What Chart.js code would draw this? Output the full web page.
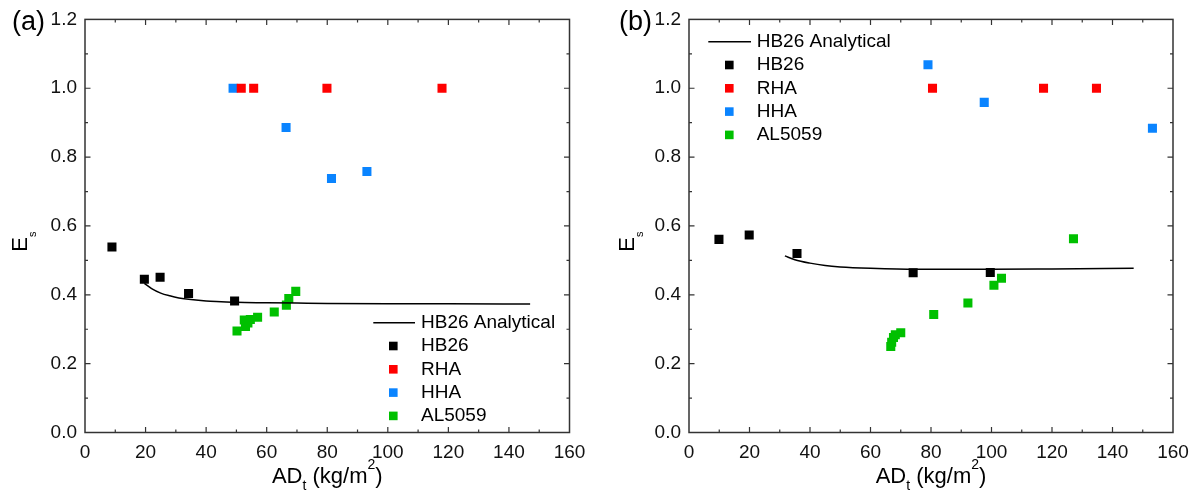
<!DOCTYPE html>
<html>
<head>
<meta charset="utf-8">
<script src="https://cdn.jsdelivr.net/npm/chart.js@4.4.0/dist/chart.umd.min.js"></script>
<style>
body { margin: 0; background: #fff; }
#wrap { position: relative; width: 1201px; height: 490px; }
#wrap canvas { position: absolute; top: 0; }
</style>
</head>
<body>
<div id="wrap">
  <canvas id="chartA" width="600" height="490" style="left:0"></canvas>
  <canvas id="chartB" width="601" height="490" style="left:600px"></canvas>
</div>
<script>
// ---- data, panel (a)
let hb26XA = [8.9, 19.6, 24.8, 34.2, 49.4]
let hb26YA = [0.539, 0.445, 0.451, 0.404, 0.382]
let rhaXA = [51.6, 55.7, 79.9, 117.9]
let rhaYA = [1.0, 1.0, 1.0, 1.0]
let hhaXA = [48.9, 66.4, 81.4, 93.1]
let hhaYA = [1.0, 0.886, 0.738, 0.758]
let alXA = [50.2, 52.6, 53.0, 53.8, 54.6, 57.0, 62.5, 66.5, 67.3, 69.6]
let alYA = [0.295, 0.327, 0.308, 0.318, 0.328, 0.335, 0.350, 0.370, 0.389, 0.410]
let anaXA = [19.6, 22, 25, 28, 31, 35, 40, 45, 50, 60, 70, 80, 100, 120, 147]
let anaYA = [0.433, 0.418, 0.405, 0.397, 0.391, 0.386, 0.382, 0.380, 0.378, 0.377, 0.376, 0.375, 0.374, 0.374, 0.373]

// ---- data, panel (b)
let hb26XB = [9.9, 19.9, 35.7, 74.1, 99.6]
let hb26YB = [0.561, 0.574, 0.520, 0.464, 0.465]
let rhaXB = [80.5, 117.2, 134.7]
let rhaYB = [1.0, 1.0, 1.0]
let hhaXB = [79.0, 97.6, 153.2]
let hhaYB = [1.068, 0.959, 0.884]
let alXB = [66.7, 67.0, 67.6, 68.2, 70.0, 80.9, 92.2, 100.8, 103.3, 127.1]
let alYB = [0.250, 0.262, 0.276, 0.284, 0.290, 0.343, 0.376, 0.428, 0.448, 0.563]
let anaXB = [31.7, 35, 40, 45, 50, 60, 75, 100, 120, 147]
let anaYB = [0.513, 0.502, 0.492, 0.485, 0.481, 0.477, 0.474, 0.474, 0.475, 0.477]

// ---- axes
let xTicks = [0, 20, 40, 60, 80, 100, 120, 140, 160]
let yTicks = [0.0, 0.2, 0.4, 0.6, 0.8, 1.0, 1.2]
let seriesNames = ['HB26 Analytical', 'HB26', 'RHA', 'HHA', 'AL5059']

const FONT = "'Liberation Sans', Arial, sans-serif"
const colors = { hb26: '#000000', rha: '#ff0000', hha: '#0a84ff', al: '#00c000' }

function pts(xs, ys) {
    return xs.map((x, i) => ({ x: x, y: ys[i] }))
}

// draw text made of pieces (for sub/superscripts)
function richText(ctx, parts, x, y, center) {
    let total = 0
    parts.forEach(p => {
        ctx.font = p.size + 'px ' + FONT
        p.w = ctx.measureText(p.t).width
        total += p.w
    })
    let cx = center ? x - total / 2 : x
    ctx.textAlign = 'left'
    ctx.textBaseline = 'alphabetic'
    parts.forEach(p => {
        ctx.font = p.size + 'px ' + FONT
        ctx.fillText(p.t, cx, y + (p.dy || 0))
        cx += p.w
    })
}

const framePlugin = {
    id: 'frame',
    afterDraw(chart, args, o) {
        let ctx = chart.ctx
        let a = chart.chartArea
        let xs = chart.scales.x, ys = chart.scales.y
        ctx.save()
        ctx.strokeStyle = '#333'
        ctx.lineWidth = 1.5
        ctx.strokeRect(a.left, a.top, a.right - a.left, a.bottom - a.top)

        // inward ticks on all four sides
        ctx.lineWidth = 1.2
        ctx.beginPath()
        for (let v = 10; v < 160; v += 10) {
            let len = v % 20 === 0 ? 5.5 : 3
            let px = xs.getPixelForValue(v)
            ctx.moveTo(px, a.bottom); ctx.lineTo(px, a.bottom - len)
            ctx.moveTo(px, a.top); ctx.lineTo(px, a.top + len)
        }
        for (let i = 1; i < 12; i++) {
            let len = i % 2 === 0 ? 5.5 : 3
            let py = ys.getPixelForValue(i / 10)
            ctx.moveTo(a.left, py); ctx.lineTo(a.left + len, py)
            ctx.moveTo(a.right, py); ctx.lineTo(a.right - len, py)
        }
        ctx.stroke()

        ctx.fillStyle = '#000'
        // x axis title
        richText(ctx, [
            { t: 'AD', size: 22 },
            { t: 't', size: 14, dy: 7 },
            { t: ' (kg/m', size: 22 },
            { t: '2', size: 14, dy: -14 },
            { t: ')', size: 22 }
        ], (a.left + a.right) / 2, 482.7, true)

        // y axis title, rotated
        ctx.save()
        ctx.translate(o.yTitleX, 251.7)
        ctx.rotate(-Math.PI / 2)
        richText(ctx, [
            { t: 'E', size: 22 },
            { t: 's', size: 11, dy: 9 }
        ], 0, 0, false)
        ctx.restore()

        // panel label
        ctx.font = '27px ' + FONT
        ctx.textAlign = 'left'
        ctx.textBaseline = 'alphabetic'
        ctx.fillText(o.label, o.labelX, 30.3)

        // legend
        let lg = o.legend
        let ds = chart.data.datasets
        ctx.font = '19px ' + FONT
        ctx.textBaseline = 'middle'
        ds.forEach((d, i) => {
            let y = lg.y0 + i * lg.step
            if (d.showLine) {
                ctx.strokeStyle = d.borderColor
                ctx.lineWidth = 1.5
                ctx.beginPath()
                ctx.moveTo(lg.lineX1, y); ctx.lineTo(lg.lineX2, y)
                ctx.stroke()
            } else {
                ctx.fillStyle = d.backgroundColor
                ctx.fillRect(lg.markX - 4.3, y - 4.3, 8.6, 8.6)
            }
            ctx.fillStyle = '#000'
            ctx.fillText(d.label, lg.textX, y)
        })
        ctx.restore()
    }
}

function makeChart(id, d, o) {
    let sq = (label, data, color) => ({
        label: label, data: data,
        backgroundColor: color, borderColor: color,
        pointStyle: 'rect', pointRadius: 6.4, pointBorderWidth: 0,
        pointHoverRadius: 6.4, showLine: false
    })
    return new Chart(id, {
        type: 'scatter',
        data: {
            datasets: [
                {
                    label: seriesNames[0], data: d.ana, showLine: true,
                    borderColor: '#000', backgroundColor: '#000',
                    borderWidth: 1.5, pointRadius: 0, cubicInterpolationMode: 'monotone'
                },
                sq(seriesNames[1], d.hb26, colors.hb26),
                sq(seriesNames[2], d.rha, colors.rha),
                sq(seriesNames[3], d.hha, colors.hha),
                sq(seriesNames[4], d.al, colors.al)
            ]
        },
        options: {
            responsive: false,
            animation: false,
            devicePixelRatio: 1,
            layout: { padding: { left: 0, top: 16.7, right: o.padRight, bottom: 0 } },
            plugins: {
                legend: { display: false },
                tooltip: { enabled: false },
                frame: o
            },
            scales: {
                x: {
                    type: 'linear', min: 0, max: 160,
                    afterBuildTicks: s => { s.ticks = xTicks.map(v => ({ value: v })) },
                    afterFit: s => { s.height = 490 - 432.5 },
                    grid: { display: false, drawTicks: false },
                    border: { display: false },
                    ticks: { color: '#111', padding: 9, font: { family: FONT, size: 19 } }
                },
                y: {
                    type: 'linear', min: 0, max: 1.2,
                    afterBuildTicks: s => { s.ticks = yTicks.map(v => ({ value: v })) },
                    afterFit: s => { s.width = o.plotLeft },
                    grid: { display: false, drawTicks: false },
                    border: { display: false },
                    ticks: {
                        color: '#111', padding: 8, font: { family: FONT, size: 19 },
                        callback: v => Number(v).toFixed(1)
                    }
                }
            }
        },
        plugins: [framePlugin]
    })
}

makeChart('chartA', {
    ana: pts(anaXA, anaYA), hb26: pts(hb26XA, hb26YA), rha: pts(rhaXA, rhaYA),
    hha: pts(hhaXA, hhaYA), al: pts(alXA, alYA)
}, {
    plotLeft: 85, padRight: 30.5, yTitleX: 27, label: '(a)', labelX: 12,
    legend: { y0: 322.7, step: 23.3, lineX1: 373.3, lineX2: 415, markX: 393.3, textX: 421 }
})

makeChart('chartB', {
    ana: pts(anaXB, anaYB), hb26: pts(hb26XB, hb26YB), rha: pts(rhaXB, rhaYB),
    hha: pts(hhaXB, hhaYB), al: pts(alXB, alYB)
}, {
    plotLeft: 89, padRight: 28, yTitleX: 34, label: '(b)', labelX: 19,
    legend: { y0: 41.7, step: 23.3, lineX1: 108.3, lineX2: 151, markX: 129.3, textX: 156.7 }
})
</script>
</body>
</html>
